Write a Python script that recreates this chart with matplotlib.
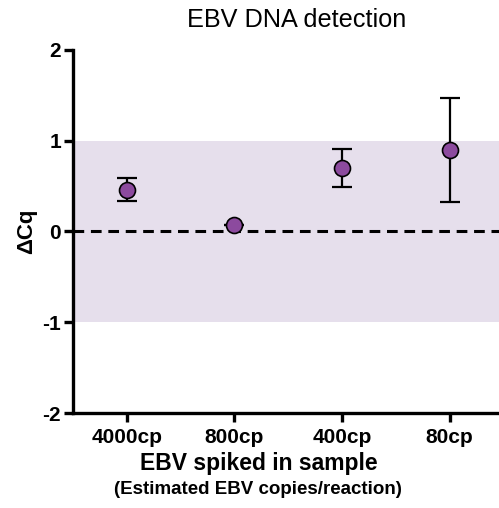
import matplotlib
matplotlib.use("Agg")
import matplotlib.pyplot as plt

categories = ["4000cp", "800cp", "400cp", "80cp"]
dcq = [0.46, 0.07, 0.70, 0.90]
err_low = [0.34, 0.07, 0.49, 0.32]
err_high = [0.59, 0.07, 0.91, 1.47]

plt.rcParams["font.family"] = ["Liberation Sans", "DejaVu Sans"]
plt.rcParams["axes.unicode_minus"] = False

fig = plt.figure(figsize=(4.99, 5.08), dpi=100)
ax = fig.add_axes([0.1463, 0.187, 0.8537, 0.7146])

x = list(range(len(categories)))
yerr = [[v - lo for v, lo in zip(dcq, err_low)], [hi - v for v, hi in zip(dcq, err_high)]]

ax.axhspan(-1, 1, color="#e6dfec", zorder=0, lw=0)
ax.axhline(0, color="black", lw=2.2, ls=(0, (3.5, 2.2)), zorder=1)
ax.errorbar(x, dcq, yerr=yerr, fmt="none", ecolor="black", elinewidth=1.6,
            capsize=7.5, capthick=1.6, zorder=2)
ax.plot(x, dcq, "o", ms=11.5, mfc="#8c4a9e", mec="black", mew=1.2, zorder=3)

ax.set_xlim(-0.5, 3.46)
ax.set_ylim(-2, 2)
ax.set_yticks([-2, -1, 0, 1, 2])
ax.set_xticks(x)
ax.set_xticklabels(categories)

for s in ["top", "right"]:
    ax.spines[s].set_visible(False)
for s in ["left", "bottom"]:
    ax.spines[s].set_linewidth(2.4)

ax.tick_params(axis="both", width=2.4, length=6.5, labelsize=15, pad=2)
ax.tick_params(axis="x", pad=4)
for lab in ax.get_xticklabels() + ax.get_yticklabels():
    lab.set_fontweight("bold")

ax.set_ylabel("ΔCq", fontsize=16, fontweight="bold", labelpad=4)

fig.text(0.595, 0.960, "EBV DNA detection", ha="center", va="center", fontsize=18.2)
fig.text(0.519, 0.088, "EBV spiked in sample", ha="center", va="center",
         fontsize=16.5, fontweight="bold")
fig.text(0.517, 0.036, "(Estimated EBV copies/reaction)", ha="center", va="center",
         fontsize=13.5, fontweight="bold")

fig.savefig("out.png", dpi=100)
